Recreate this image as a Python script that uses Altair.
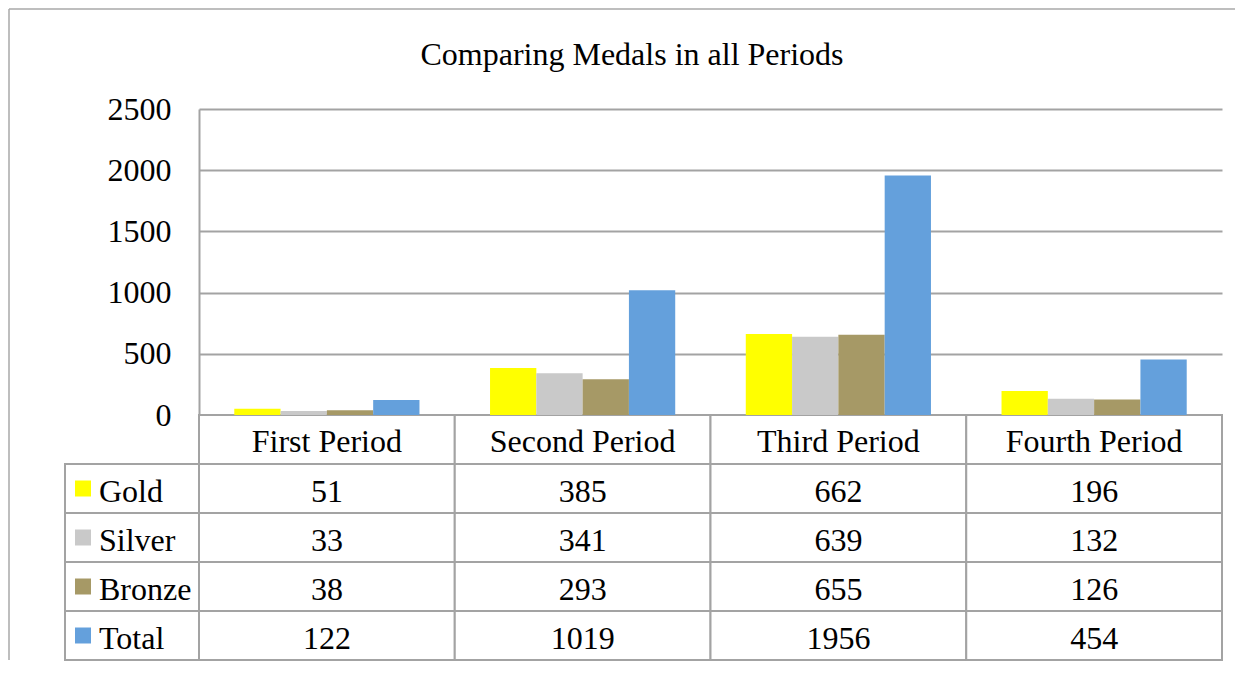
import altair as alt
import pandas as pd

periods = ["First Period", "Second Period", "Third Period", "Fourth Period"]
series = ["Gold", "Silver", "Bronze", "Total"]
gold = [51, 385, 662, 196]
silver = [33, 341, 639, 132]
bronze = [38, 293, 655, 126]
total = [122, 1019, 1956, 454]
colors = ["#FFFF00", "#C9C9C9", "#A69966", "#64A0DC"]
y_ticks = [0, 500, 1000, 1500, 2000, 2500]
title_text = "Comparing Medals in all Periods"

FONT = "Liberation Serif"
FS = 32
LINE = "#A3A3A3"

rows = ["header"] + series
values = {"Gold": gold, "Silver": silver, "Bronze": bronze, "Total": total}
recs = []
for s in series:
    for p, v in zip(periods, values[s]):
        recs.append({"period": p, "series": s, "row": s, "value": v})
df = pd.DataFrame(recs)
header_df = pd.DataFrame({"period": periods, "row": ["header"] * len(periods)})
label_df = pd.DataFrame({"series": series, "row": series})
title_df = pd.DataFrame({"t": [title_text]})
one = pd.DataFrame({"a": [0]})

xenc = alt.X("period:N", sort=periods, scale=alt.Scale(paddingInner=0, paddingOuter=0), axis=None)
color_enc = alt.Color("series:N", sort=series, scale=alt.Scale(domain=series, range=colors), legend=None)
yrow = alt.Y("row:N", sort=rows,
             scale=alt.Scale(domain=rows, range=[306, 551], paddingInner=0, paddingOuter=0),
             axis=None)

bars = alt.Chart(df).mark_bar().encode(
    x=xenc,
    xOffset=alt.XOffset("series:N", sort=series,
                        scale=alt.Scale(domain=series, paddingInner=0, paddingOuter=0.762)),
    y=alt.Y("value:Q", scale=alt.Scale(domain=[0, 2500], nice=False),
            axis=alt.Axis(values=y_ticks, format="d", title=None, grid=True, ticks=False,
                          labelFont=FONT, labelFontSize=FS, labelColor="black",
                          labelPadding=28, domainColor=LINE, domainWidth=2,
                          gridColor=LINE, gridWidth=2)),
    color=color_enc,
)

header_cells = alt.Chart(header_df).mark_rect(fill="white", stroke=LINE, strokeWidth=2).encode(
    x=xenc, y=yrow)
value_cells = alt.Chart(df).mark_rect(fill="white", stroke=LINE, strokeWidth=2).encode(
    x=xenc, y=yrow)
label_cells = alt.Chart(label_df).mark_rect(fill="white", stroke=LINE, strokeWidth=2).encode(
    x=alt.value(-134), x2=alt.value(0), y=yrow)

header_text = alt.Chart(header_df).mark_text(font=FONT, fontSize=FS, color="black",
                                             baseline="middle", dy=2).encode(
    x=xenc, y=yrow, text="period:N")
value_text = alt.Chart(df).mark_text(font=FONT, fontSize=FS, color="black",
                                     baseline="middle", dy=3).encode(
    x=xenc, y=yrow, text="value:Q")
squares = alt.Chart(label_df).mark_square(size=256, opacity=1, filled=True).encode(
    x=alt.value(-116), y=yrow, color=color_enc)
labels = alt.Chart(label_df).mark_text(font=FONT, fontSize=FS, color="black", align="left",
                                       baseline="middle", dy=3).encode(
    x=alt.value(-100), y=yrow, text="series:N")

title = alt.Chart(title_df).mark_text(font=FONT, fontSize=FS, color="black", align="center",
                                      baseline="alphabetic").encode(
    x=alt.value(433), y=alt.value(-44), text="t:N")

left_border = alt.Chart(one).mark_rule(color="#A8A8A8", strokeWidth=1.5).encode(
    x=alt.value(-190), y=alt.value(-100), y2=alt.value(551))
top_border = alt.Chart(one).mark_rule(color="#A8A8A8", strokeWidth=1.5).encode(
    x=alt.value(-190), x2=alt.value(1036), y=alt.value(-100))

chart = alt.layer(
    left_border, top_border, title,
    header_cells, value_cells, label_cells,
    bars,
    header_text, value_text, squares, labels,
).resolve_scale(y="independent").properties(
    width=1023, height=306, padding=0, background="white"
).configure_view(stroke=None)

chart.save("out.html", embed_options={"renderer": "svg", "actions": False})
